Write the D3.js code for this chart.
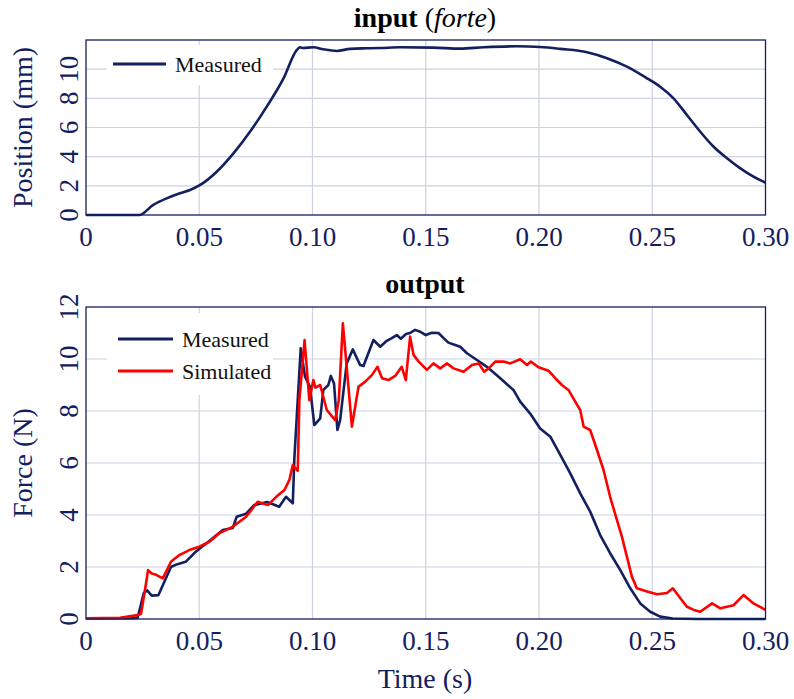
<!DOCTYPE html>
<html>
<head>
<meta charset="utf-8">
<script src="https://cdn.jsdelivr.net/npm/d3@7"></script>
<style>
  body { margin: 0; background: #fff; }
  svg { display: block; font-family: "Liberation Serif", "Times New Roman", serif; }
</style>
</head>
<body>
<div id="chart"></div>
<script>
// ---- data ----
const xTicks = [0, 0.05, 0.10, 0.15, 0.20, 0.25, 0.30];
const posTicks = [0, 2, 4, 6, 8, 10];
const forceTicks = [0, 2, 4, 6, 8, 10, 12];

// input: measured position [time s, mm]
const inputMeasured = [
  [0, 0], [0.0235, 0], [0.0297, 0.69], [0.0356, 1.14], [0.0415, 1.49], [0.0459, 1.71],
  [0.0504, 2.06], [0.0577, 2.97], [0.0651, 4.23], [0.0724, 5.71], [0.0798, 7.43],
  [0.0872, 9.37], [0.0931, 11.32], [0.0945, 11.5], [0.0958, 11.45], [0.1004, 11.5],
  [0.1048, 11.36], [0.1107, 11.25], [0.1166, 11.39], [0.124, 11.43], [0.1299, 11.45],
  [0.1387, 11.5], [0.1534, 11.48], [0.1652, 11.41], [0.1755, 11.5], [0.1902, 11.57],
  [0.2005, 11.52], [0.2094, 11.39], [0.2212, 11.16], [0.23, 10.75], [0.2388, 10.17],
  [0.2477, 9.37], [0.2535, 8.8], [0.2594, 8.0], [0.2653, 6.86], [0.2712, 5.71],
  [0.2771, 4.68], [0.283, 3.89], [0.2889, 3.2], [0.2947, 2.63], [0.30, 2.22]
];

// output: measured force [time s, N]
const outputMeasured = [
  [0, 0.02], [0.02, 0.03], [0.0228, 0.05], [0.0255, 1.0], [0.027, 1.1], [0.029, 0.9],
  [0.032, 0.92], [0.0375, 2.0], [0.040, 2.1], [0.044, 2.2], [0.0486, 2.6], [0.054, 2.97],
  [0.0604, 3.42], [0.0648, 3.5], [0.0665, 3.93], [0.0707, 4.05], [0.0742, 4.38],
  [0.080, 4.5], [0.0853, 4.32], [0.0883, 4.7], [0.0913, 4.45], [0.092, 6.2],
  [0.0948, 10.41], [0.0967, 9.32], [0.0989, 8.93], [0.1008, 7.46], [0.1034, 7.72],
  [0.1048, 8.81], [0.107, 9.0], [0.1081, 9.35], [0.1095, 9.06], [0.111, 7.27],
  [0.1122, 7.65], [0.1151, 9.83], [0.1178, 10.37], [0.121, 9.77], [0.1225, 9.73],
  [0.1269, 10.73], [0.1299, 10.47], [0.1328, 10.7], [0.135, 10.8], [0.1372, 10.92],
  [0.139, 10.78], [0.1413, 10.96], [0.1431, 11.0], [0.1453, 11.12], [0.1475, 11.05],
  [0.150, 10.92], [0.1527, 11.01], [0.1556, 11.0], [0.1578, 10.81], [0.16, 10.63],
  [0.163, 10.54], [0.1652, 10.47], [0.1682, 10.22], [0.1726, 9.96], [0.177, 9.7],
  [0.1829, 9.26], [0.1887, 8.81], [0.1917, 8.36], [0.1961, 7.9], [0.2005, 7.33],
  [0.205, 7.01], [0.2094, 6.31], [0.2138, 5.6], [0.2182, 4.83], [0.2226, 4.13],
  [0.227, 3.23], [0.2314, 2.53], [0.2359, 1.88], [0.2403, 1.18], [0.2447, 0.6],
  [0.2491, 0.28], [0.2535, 0.09], [0.259, 0.02], [0.27, 0.0], [0.30, 0.0]
];

// output: simulated force [time s, N]
const outputSimulated = [
  [0, 0.03], [0.015, 0.05], [0.0228, 0.15], [0.0243, 0.2], [0.0262, 1.2], [0.0274, 1.88],
  [0.029, 1.75], [0.031, 1.7], [0.0339, 1.56], [0.0375, 2.2], [0.0412, 2.46],
  [0.0456, 2.65], [0.05, 2.78], [0.0545, 2.97], [0.0589, 3.3], [0.0618, 3.42],
  [0.0648, 3.55], [0.0677, 3.74], [0.0707, 3.93], [0.0736, 4.26], [0.0758, 4.51],
  [0.0803, 4.38], [0.084, 4.7], [0.0876, 4.96], [0.0898, 5.35], [0.0913, 5.92],
  [0.0935, 5.7], [0.0942, 8.42], [0.0965, 10.73], [0.0986, 8.42], [0.1004, 9.19],
  [0.1013, 8.9], [0.1034, 9.0], [0.1063, 8.04], [0.11, 7.65], [0.1116, 8.4],
  [0.1134, 11.37], [0.1151, 9.7], [0.1174, 7.4], [0.1203, 8.93], [0.1233, 9.13],
  [0.1262, 9.38], [0.1287, 9.7], [0.1307, 9.26], [0.1335, 9.19], [0.1365, 9.35],
  [0.1394, 9.7], [0.1412, 9.19], [0.1431, 10.86], [0.1446, 10.16], [0.1468, 9.91],
  [0.1505, 9.58], [0.1534, 9.83], [0.1564, 9.64], [0.1593, 9.83], [0.1623, 9.64],
  [0.1667, 9.51], [0.1704, 9.77], [0.1734, 9.83], [0.1758, 9.51], [0.1778, 9.64],
  [0.1807, 9.9], [0.1844, 9.9], [0.1873, 9.83], [0.1917, 9.99], [0.1947, 9.77],
  [0.1964, 9.9], [0.1998, 9.68], [0.2042, 9.55], [0.2072, 9.26], [0.2101, 9.0],
  [0.213, 8.81], [0.216, 8.36], [0.2182, 8.04], [0.2197, 7.4], [0.2226, 7.27],
  [0.2256, 6.5], [0.2285, 5.73], [0.2314, 4.7], [0.2344, 3.81], [0.2366, 3.17],
  [0.2388, 2.4], [0.241, 1.63], [0.2432, 1.18], [0.2477, 1.06], [0.2521, 0.95],
  [0.2565, 1.0], [0.2591, 1.18], [0.2624, 0.8], [0.2653, 0.47], [0.2683, 0.35],
  [0.2712, 0.28], [0.2764, 0.6], [0.2801, 0.41], [0.2859, 0.53], [0.2903, 0.92],
  [0.2947, 0.6], [0.30, 0.35]
];

const navy = "#13205f";
const red = "#ff0000";
const gridColor = "#cdd1e3";

const width = 794, height = 699;
const left = 86, right = 765.5;

const svg = d3.select("#chart").append("svg")
  .attr("width", width).attr("height", height);

const x = d3.scaleLinear().domain([0, 0.30]).range([left, right]);
const fmtX = d => d === 0 ? "0" : d3.format(".2f")(d);

function panel(top, bottom, yTicks, yLabel, series, legend) {
  const y = d3.scaleLinear().domain([0, 12]).range([bottom, top]);
  const g = svg.append("g");

  // grid
  g.append("g").selectAll("line").data(xTicks.slice(1, -1)).join("line")
    .attr("x1", d => x(d)).attr("x2", d => x(d))
    .attr("y1", top).attr("y2", bottom)
    .attr("stroke", gridColor).attr("stroke-width", 1.2);
  g.append("g").selectAll("line").data(forceTicks.slice(1, -1)).join("line")
    .attr("x1", left).attr("x2", right)
    .attr("y1", d => y(d)).attr("y2", d => y(d))
    .attr("stroke", gridColor).attr("stroke-width", 1.2);

  // legend background (covers grid)
  g.append("rect")
    .attr("x", legend.box[0]).attr("y", legend.box[1])
    .attr("width", legend.box[2]).attr("height", legend.box[3])
    .attr("fill", "#fff");

  // lines
  series.forEach(s => {
    const line = d3.line()
      .x(d => x(d[0])).y(d => y(d[1]))
      .curve(s.smooth ? d3.curveMonotoneX : d3.curveLinear);
    g.append("path").datum(s.data)
      .attr("fill", "none").attr("stroke", s.color)
      .attr("stroke-width", 2.6).attr("stroke-linejoin", "round")
      .attr("d", line);
  });

  // frame
  g.append("rect")
    .attr("x", left).attr("y", top)
    .attr("width", right - left).attr("height", bottom - top)
    .attr("fill", "none").attr("stroke", navy).attr("stroke-width", 1.3);

  // x tick labels
  g.append("g").selectAll("text").data(xTicks).join("text")
    .attr("x", d => x(d)).attr("y", bottom + 31)
    .attr("text-anchor", "middle").attr("font-size", 27).attr("fill", navy)
    .text(fmtX);

  // y tick labels (rotated)
  g.append("g").selectAll("text").data(yTicks).join("text")
    .attr("transform", d => `translate(78,${y(d)}) rotate(-90)`)
    .attr("text-anchor", "middle").attr("font-size", 27).attr("fill", navy)
    .text(d => d);

  // y label
  g.append("text")
    .attr("transform", `translate(32,${(top + bottom) / 2}) rotate(-90)`)
    .attr("text-anchor", "middle").attr("font-size", 28).attr("fill", navy)
    .text(yLabel);

  // legend entries
  legend.items.forEach((it, i) => {
    const ly = legend.y0 + i * legend.dy;
    g.append("line")
      .attr("x1", legend.x0).attr("x2", legend.x0 + legend.len)
      .attr("y1", ly).attr("y2", ly)
      .attr("stroke", it.color).attr("stroke-width", 2.8);
    g.append("text")
      .attr("x", legend.x0 + legend.len + 9).attr("y", ly + 7.5)
      .attr("font-size", 22).attr("fill", "#111")
      .text(it.label);
  });
  return y;
}

// top panel: input
panel(40, 215, posTicks, "Position (mm)",
  [{ data: inputMeasured, color: navy, smooth: true }],
  { box: [107, 45, 166, 40], x0: 113, len: 53, y0: 64, dy: 0,
    items: [{ label: "Measured", color: navy }] });

// bottom panel: output
panel(307, 619, forceTicks, "Force (N)",
  [{ data: outputMeasured, color: navy, smooth: false },
   { data: outputSimulated, color: red, smooth: false }],
  { box: [107, 313, 166, 82], x0: 118, len: 55, y0: 339, dy: 32,
    items: [{ label: "Measured", color: navy }, { label: "Simulated", color: red }] });

// titles
const t1 = svg.append("text").attr("x", 425).attr("y", 27)
  .attr("text-anchor", "middle").attr("font-size", 28).attr("fill", "#000");
t1.append("tspan").attr("font-weight", "bold").text("input");
t1.append("tspan").text(" (");
t1.append("tspan").attr("font-style", "italic").text("forte");
t1.append("tspan").text(")");

svg.append("text").attr("x", 425).attr("y", 293)
  .attr("text-anchor", "middle").attr("font-size", 28)
  .attr("font-weight", "bold").attr("fill", "#000")
  .text("output");

svg.append("text").attr("x", 425).attr("y", 688)
  .attr("text-anchor", "middle").attr("font-size", 28).attr("fill", navy)
  .text("Time (s)");
</script>
</body>
</html>
